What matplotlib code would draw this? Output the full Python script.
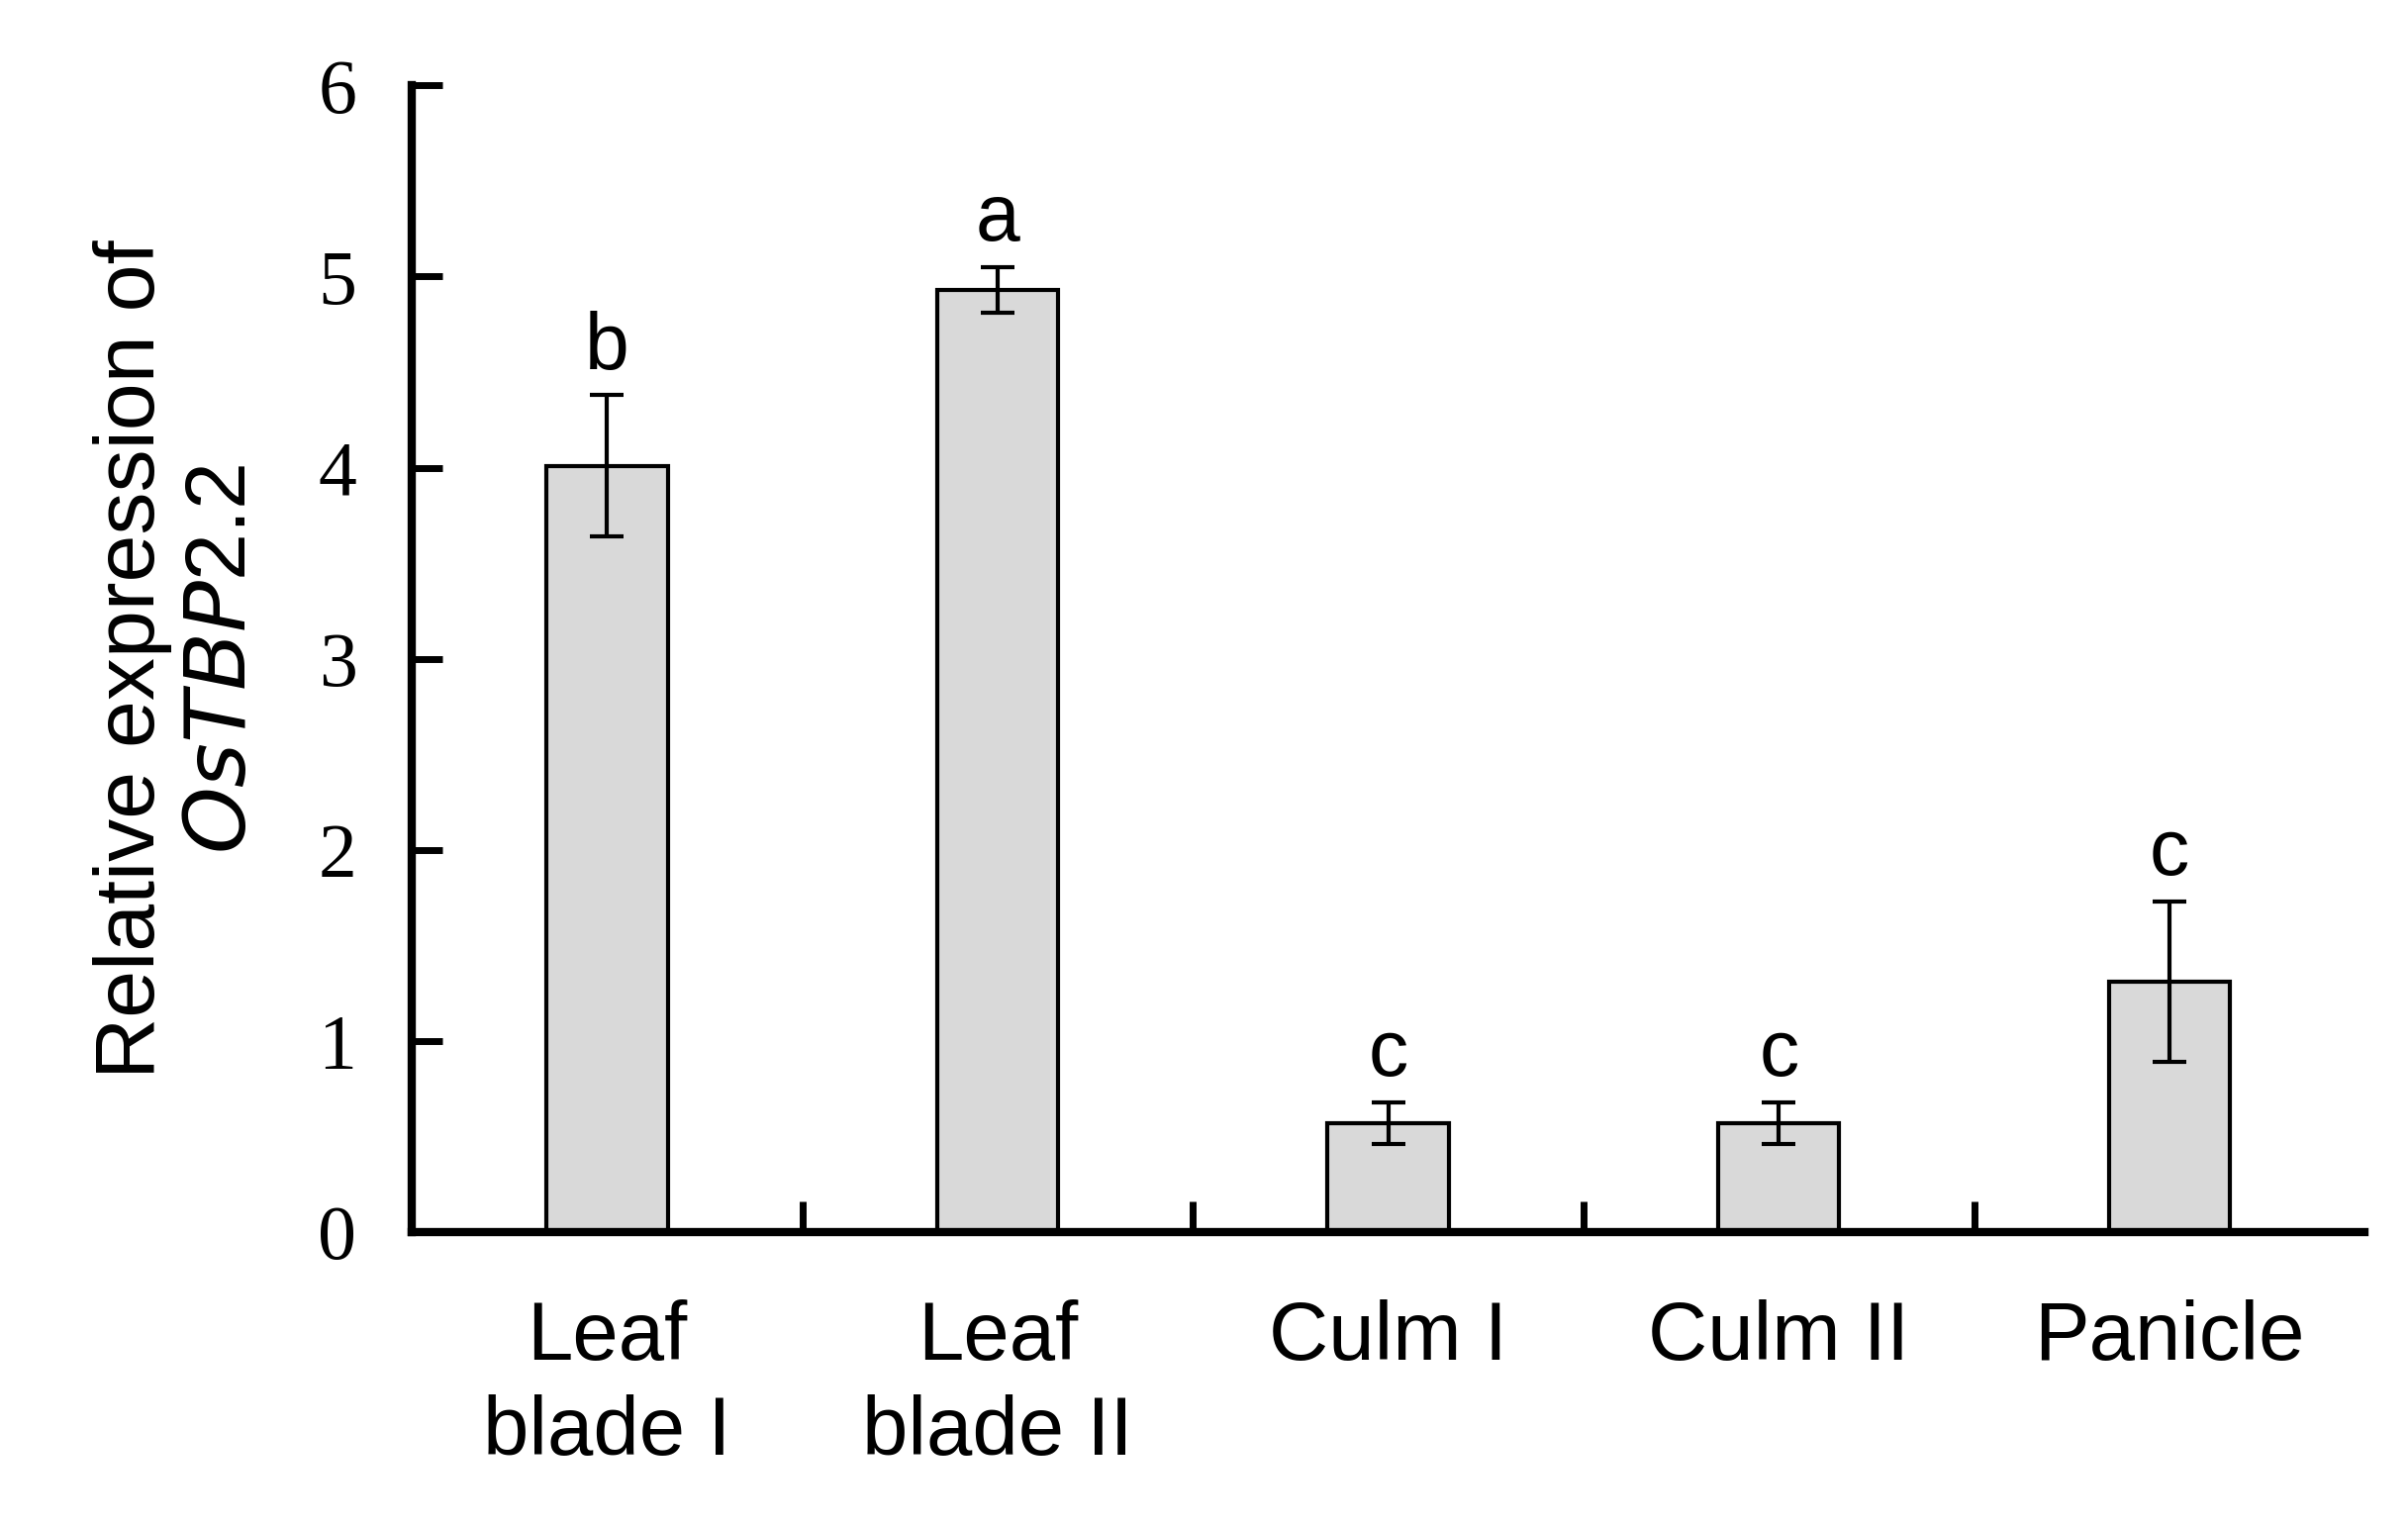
import matplotlib
matplotlib.use("Agg")
import matplotlib.pyplot as plt
import numpy as np

categories = ["Leaf\nblade I", "Leaf\nblade II", "Culm I", "Culm II", "Panicle"]
values = [4.01, 4.93, 0.57, 0.57, 1.31]
errors = [0.37, 0.12, 0.11, 0.11, 0.42]
letters = ["b", "a", "c", "c", "c"]
yticks = [0, 1, 2, 3, 4, 5, 6]

fig = plt.figure(figsize=(24.33, 15.41), dpi=100)
ax = fig.add_axes([0.171, 0.192, 0.811, 0.752])
x = np.arange(len(categories))
ax.bar(x, values, width=0.31, color="#d9d9d9", edgecolor="black", linewidth=3,
       yerr=errors, capsize=12, error_kw=dict(elinewidth=3, capthick=3), zorder=2)
for xi, v, e, l in zip(x, values, errors, letters):
    ax.text(xi, v + e + 0.05, l, ha="center", va="bottom", fontsize=58, family="Liberation Sans")
ax.set_xlim(-0.5, 4.5)
ax.set_ylim(0, 6)
ax.spines["top"].set_visible(False)
ax.spines["right"].set_visible(False)
for s in ["left", "bottom"]:
    ax.spines[s].set_linewidth(6)
ax.set_yticks(yticks)
ax.set_yticklabels([str(t) for t in yticks], family="Liberation Serif", fontsize=56)
ax.tick_params(axis="y", direction="in", length=22, width=5, pad=40)
ax.set_xticks(x + 0.5, minor=False)
ax.set_xticks(x[:-1] + 0.5)
ax.set_xticklabels([])
ax.tick_params(axis="x", direction="in", length=22, width=5)
for xi, c in zip(x, categories):
    ax.text(xi, -0.35, c, ha="center", va="top", fontsize=60, family="Liberation Sans",
            linespacing=1.3, transform=ax.transData)
ax.set_ylabel("Relative expression of\n$\\mathit{Os}$$\\mathit{TBP}$2.2", fontsize=62,
              family="Liberation Sans", labelpad=40, linespacing=1.2)
fig.savefig("out.png", dpi=100)
